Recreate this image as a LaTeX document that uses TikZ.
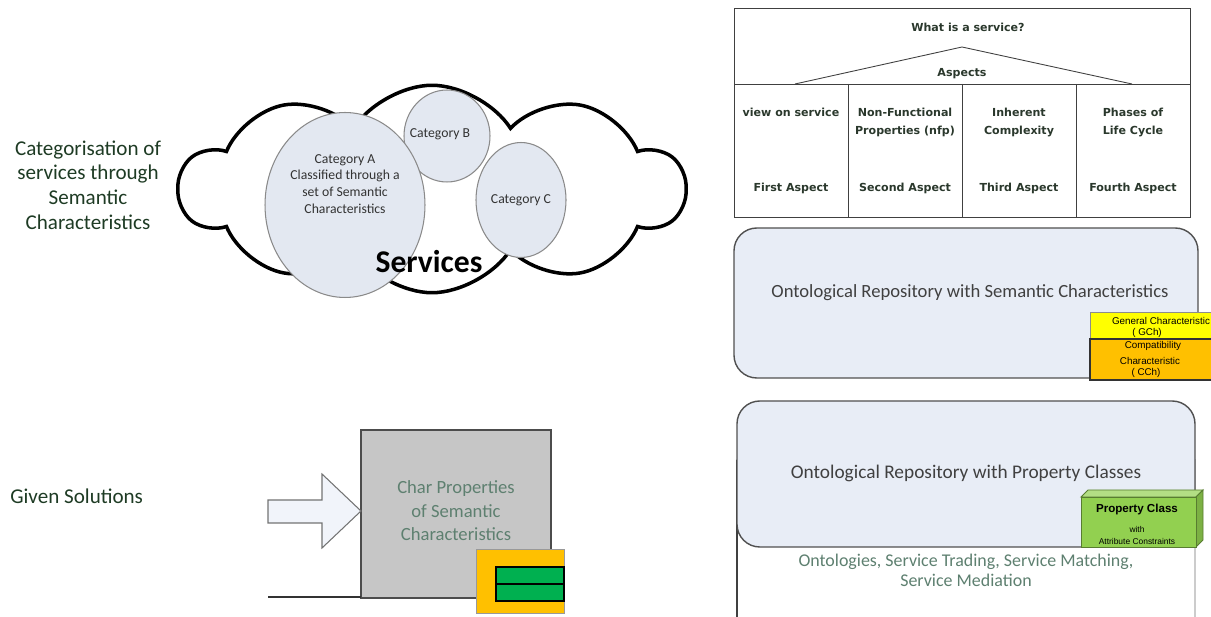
\documentclass[tikz,border=0pt]{standalone}
\usepackage{fontspec}
\setmainfont{Carlito}
\newfontfamily\tahomaf{DejaVu Sans}
\newfontfamily\arialf{Liberation Sans}
\usepackage{tikz}
\usetikzlibrary{shapes.geometric, shapes.symbols}
\definecolor{labelgreen}{HTML}{1E3B24}
\definecolor{celltext}{HTML}{2A382C}
\definecolor{catfill}{HTML}{E3E8F1}
\definecolor{catline}{HTML}{8A8A8A}
\definecolor{repofill}{HTML}{E8EDF6}
\definecolor{repoline}{HTML}{505050}
\definecolor{softgreen}{HTML}{5E8070}
\definecolor{boxgrey}{HTML}{C6C6C6}
\definecolor{amber}{HTML}{FFC000}
\definecolor{lemon}{HTML}{FFFF00}
\definecolor{leaf}{HTML}{00B050}
\definecolor{lime}{HTML}{92D050}

\begin{document}
\begin{tikzpicture}[
  x=0.02cm, y=-0.02cm,
  every node/.style={inner sep=0pt},
  sidelabel/.style={font=\fontsize{12}{14}\selectfont, text=labelgreen, align=center},
  cat/.style={ellipse, draw=catline, fill=catfill, line width=0.6pt},
  cattext/.style={font=\fontsize{7.8}{9.6}\selectfont, text=black!80, align=center},
  cell/.style={font=\tahomaf\bfseries\fontsize{6.3}{10.2}\selectfont, text=celltext, align=center},
  tabline/.style={draw=black!75, line width=0.5pt},
  repo/.style={draw=repoline, fill=repofill, rounded corners=13pt, line width=0.8pt},
  repotext/.style={font=\fontsize{10.6}{12}\selectfont, text=black!75},
  tiny/.style={font=\arialf\fontsize{5.6}{6}\selectfont, align=center},
  softtext/.style={font=\fontsize{10.2}{11.4}\selectfont, text=softgreen, align=center}
]
\useasboundingbox (0,0) rectangle (1211,617);

% left labels
\node[sidelabel] (catlabel) at (88,185) {Categorisation of\\services through\\Semantic\\Characteristics};
\node[sidelabel, anchor=west] (givenlabel) at (10,496) {Given Solutions};

% cloud of services
\node[cloud, draw=black, line width=2pt, cloud puffs=10, cloud puff arc=115, aspect=2.4,
      minimum width=10.1cm, minimum height=4.15cm] (svccloud) at (432,189) {};
\node[cat, minimum width=1.72cm, minimum height=1.84cm] (catB) at (447,136) {};
\node[cat, minimum width=3.2cm, minimum height=3.7cm] (catA) at (345,205) {};
\node[cat, minimum width=1.8cm, minimum height=2.3cm] (catC) at (521,200) {};
\node[cattext] (catAtxt) at (345,184) {Category A\\Classified through a\\set of Semantic\\Characteristics};
\node[cattext] (catBtxt) at (440,134) {Category B};
\node[cattext] (catCtxt) at (521,200) {Category C};
\node[font=\bfseries\fontsize{18}{20}\selectfont] (svctxt) at (429,262) {Services};

% aspects table
\draw[tabline] (734,8) rectangle (1190,217);
\draw[tabline] (734,84) -- (1190,84);
\draw[tabline] (848,84) -- (848,217);
\draw[tabline] (962,84) -- (962,217);
\draw[tabline] (1076,84) -- (1076,217);
\draw[tabline] (795,84) -- (962,47) -- (1132,84);
\node[cell] (whatis) at (968,27) {What is a service?};
\node[cell] (aspects) at (962,74) {Aspects};
\node[cell, anchor=north] (view) at (791,108) {view on service};
\node[cell, anchor=north] (nfp) at (905,108) {Non-Functional\\Properties (nfp)};
\node[cell, anchor=north] (inherent) at (1019,108) {Inherent\\Complexity};
\node[cell, anchor=north] (phases) at (1133,108) {Phases of\\Life Cycle};
\node[cell] (first) at (791,188) {First Aspect};
\node[cell] (second) at (905,188) {Second Aspect};
\node[cell] (third) at (1019,188) {Third Aspect};
\node[cell] (fourth) at (1133,188) {Fourth Aspect};

% repository with semantic characteristics
\draw[repo] (734,228) rectangle (1198,378);
\node[repotext] (semrepo) at (970,293) {Ontological Repository with Semantic Characteristics};
\draw[draw=black!45, fill=lemon, line width=0.5pt] (1090,312) rectangle (1214,339);
\draw[draw=black!80, fill=amber, line width=0.6pt] (1090,339) rectangle (1214,380);
\node[tiny] (gch) at (1161,321) {General Characteristic};
\node[tiny] (gchab) at (1147,333) {( GCh)};
\node[tiny] (cch) at (1153,346) {Compatibility};
\node[tiny] (cchb) at (1150,361) {Characteristic};
\node[tiny] (cchab) at (1146,373) {( CCh)};

% repository with property classes
\draw[draw=black!20, fill=white, line width=0.6pt] (737,460) rectangle (1195,640);
\draw[draw=black!75, line width=0.8pt] (737,460) -- (737,640);
\draw[repo] (737,401) rectangle (1195,547);
\node[repotext, font=\fontsize{11}{12}\selectfont] (proprepo) at (966,473) {Ontological Repository with Property Classes};
\node[softtext] (usage) at (966,570) {Ontologies, Service Trading, Service Matching,\\Service Mediation};
\draw[draw=lime!60!black, fill=lime!70!white, line width=0.5pt] (1081,497) -- (1088,490) -- (1203,490) -- (1196,497) -- cycle;
\draw[draw=lime!60!black, fill=lime!85!black, line width=0.5pt] (1196,497) -- (1203,490) -- (1203,540) -- (1196,547) -- cycle;
\draw[draw=lime!60!black, fill=lime, line width=0.5pt] (1081,497) rectangle (1196,547);
\node[font=\arialf\bfseries\fontsize{6.6}{8}\selectfont] (propclass) at (1137,510) {Property Class};
\node[tiny, font=\arialf\fontsize{4.8}{6}\selectfont] (propwith) at (1137,529) {with};
\node[tiny, font=\arialf\fontsize{4.8}{6}\selectfont] (propattr) at (1137,541) {Attribute Constraints};

% given solution
\draw[draw=black!70, fill=boxgrey, line width=0.7pt] (361,430) rectangle (551,598);
\draw[draw=black!80, line width=0.8pt] (268,597) -- (361,597);
\draw[draw=black!55, fill=repofill!60!white, line width=0.6pt]
  (268,500) -- (322,500) -- (322,474) -- (361,511) -- (322,548) -- (322,523) -- (268,523) -- cycle;
\node[softtext, font=\fontsize{10.6}{13.4}\selectfont] (charprops) at (456,511) {Char Properties\\of Semantic\\Characteristics};
\draw[draw=black!40, fill=amber, line width=0.4pt] (476,549) rectangle (564,613);
\draw[draw=black, fill=leaf, line width=0.6pt] (496,567) rectangle (564,584);
\draw[draw=black, fill=leaf, line width=0.6pt] (496,584) rectangle (564,601);

\end{tikzpicture}
\end{document}
